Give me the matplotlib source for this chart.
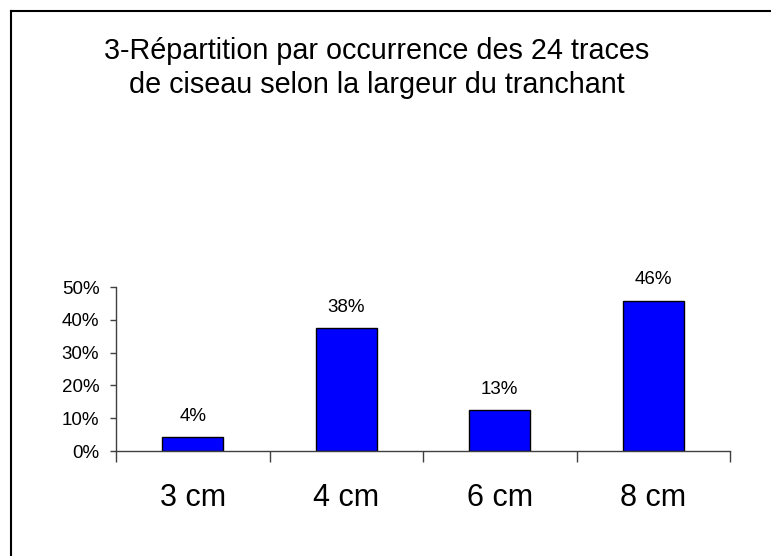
import matplotlib

matplotlib.use("Agg")
import matplotlib.pyplot as plt
from matplotlib.lines import Line2D
from matplotlib.ticker import PercentFormatter

plt.rcParams["font.family"] = ["Liberation Sans", "DejaVu Sans"]

# chisel-mark counts per cutting-edge width (24 marks in total)
widths = ["3 cm", "4 cm", "6 cm", "8 cm"]
counts = [1, 9, 3, 11]
total = 24
title = ("3-Répartition par occurrence des 24 traces\n"
         "de ciseau selon la largeur du tranchant")

BAR_COLOR = "#0000FF"
AXIS_COLOR = "#404040"

shares = [c / total for c in counts]

fig = plt.figure(figsize=(7.71, 5.56), dpi=100)
ax = fig.add_axes([116 / 771, 1 - 451 / 556, (730 - 116) / 771, (451 - 287) / 556])

x = range(len(widths))
bars = ax.bar(x, shares, width=0.4, color=BAR_COLOR, edgecolor="black", linewidth=1)

# value labels rounded half-up, like a spreadsheet would
for rect, s in zip(bars, shares):
    ax.annotate(f"{int(s * 100 + 0.5)}%",
                (rect.get_x() + rect.get_width() / 2, rect.get_height()),
                xytext=(0, 9), textcoords="offset points",
                ha="center", va="bottom", fontsize=13.5)

ax.set_xlim(-0.5, len(widths) - 0.5)
ax.set_ylim(0, 0.5)
ax.set_yticks([0, 0.1, 0.2, 0.3, 0.4, 0.5])
ax.yaxis.set_major_formatter(PercentFormatter(1.0, decimals=0))
ax.set_xticks(list(x))
ax.set_xticklabels(widths)
ax.set_xticks([i - 0.5 for i in range(len(widths) + 1)], minor=True)

ax.tick_params(axis="x", which="major", length=0, pad=23, labelsize=22)
ax.tick_params(axis="x", which="minor", length=8, width=1, direction="out",
               color=AXIS_COLOR)
ax.tick_params(axis="y", length=4, width=1, direction="out", pad=8,
               labelsize=13.5, color=AXIS_COLOR)

for side in ("top", "right"):
    ax.spines[side].set_visible(False)
for side in ("left", "bottom"):
    ax.spines[side].set_color(AXIS_COLOR)
    ax.spines[side].set_linewidth(1)

fig.text(377 / 771, 1 - 68 / 556, title, ha="center", va="center",
         fontsize=20.7, linespacing=1.3)

# outer chart frame (only its top and left edges fall inside the image)
fx, fy = 10.5 / 771, 1 - 10.5 / 556
fig.add_artist(Line2D([fx, 1], [fy, fy], color="black", lw=1.5))
fig.add_artist(Line2D([fx, fx], [fy, 0], color="black", lw=1.5))

fig.savefig("out.png", dpi=100)
